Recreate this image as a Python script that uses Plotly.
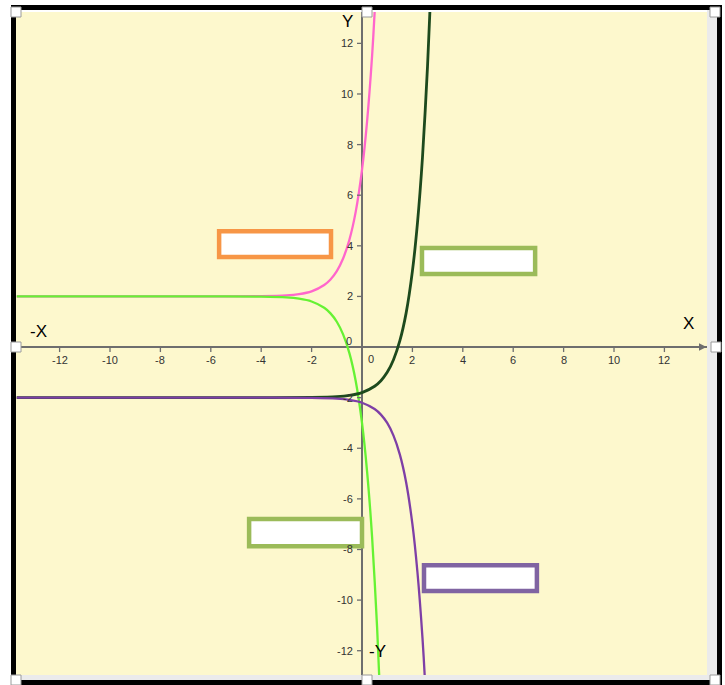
import plotly.graph_objects as go

# ---- curve samples (x, y) ----
pink_x = [-13.7, -6, -4, -3, -2.5, -2, -1.5, -1.25, -1, -0.75, -0.5, -0.25, 0, 0.2, 0.4, 0.5, 0.55]
pink_y = [2.0, 2.0, 2.01, 2.04, 2.09, 2.2, 2.45, 2.67, 3.0, 3.5, 4.24, 5.34, 7.0, 8.9, 11.5, 13.2, 14.2]

lime_x = [-13.7, -6, -4, -3, -2.5, -2, -1.5, -1.25, -1, -0.75, -0.5, -0.25, 0, 0.2, 0.4, 0.6, 0.7]
lime_y = [2.0, 2.0, 1.99, 1.96, 1.91, 1.8, 1.55, 1.33, 1.0, 0.5, -0.24, -1.34, -3.0, -4.9, -7.5, -11.1, -13.4]

dark_x = [-13.7, -4, -2, -1, -0.5, 0, 0.5, 0.75, 1, 1.25, 1.5, 1.75, 2, 2.2, 2.4, 2.6, 2.7]
dark_y = [-2.0, -2.0, -1.99, -1.96, -1.91, -1.8, -1.55, -1.33, -1.0, -0.5, 0.24, 1.34, 3.0, 4.9, 7.5, 11.1, 13.4]

purple_x = [-13.7, -4, -2, -1, -0.5, 0, 0.5, 0.75, 1, 1.25, 1.5, 1.75, 2, 2.2, 2.4, 2.5, 2.55]
purple_y = [-2.0, -2.0, -2.01, -2.04, -2.09, -2.2, -2.45, -2.67, -3.0, -3.5, -4.24, -5.34, -7.0, -8.9, -11.5, -13.2, -14.2]

# ---- axis ticks ----
x_ticks = [-12, -10, -8, -6, -4, -2, 2, 4, 6, 8, 10, 12]
y_ticks = [-12, -10, -8, -6, -4, -2, 2, 4, 6, 8, 10, 12]

X_RANGE = [-13.73, 13.69]
Y_RANGE = [-12.96, 13.24]

# plot area in pixels
L, R, T, B = 16, 707, 12, 675
W, H = R - L, B - T


def px(p):
    return (p - L) / W


def py(p):
    return (B - p) / H


fig = go.Figure()

curves = [
    (pink_x, pink_y, "#ff66cc", 2.3),
    (lime_x, lime_y, "#66f233", 2.3),
    (dark_x, dark_y, "#1d4a1d", 2.8),
    (purple_x, purple_y, "#7e3fa6", 2.3),
]
for xs, ys, color, w in curves:
    fig.add_trace(go.Scatter(
        x=xs, y=ys, mode="lines",
        line=dict(color=color, width=w, shape="spline", smoothing=0.8),
        hoverinfo="skip", showlegend=False,
    ))

shapes = []
annotations = []

tick_font = dict(family="Arial", size=11, color="#333333")

# tick marks on the axes
for t in x_ticks:
    shapes.append(dict(type="line", xref="x", yref="y", x0=t, x1=t,
                       ysizemode="pixel", yanchor=0, y0=-5, y1=0,
                       line=dict(color="#6e6e6e", width=1.3)))
    annotations.append(dict(x=t, y=0, xref="x", yref="y", text=str(t),
                            showarrow=False, yshift=-13, font=tick_font))
for t in y_ticks:
    shapes.append(dict(type="line", xref="x", yref="y", y0=t, y1=t,
                       xsizemode="pixel", xanchor=0, x0=-5, x1=0,
                       line=dict(color="#6e6e6e", width=1.3)))
    annotations.append(dict(x=0, y=t, xref="x", yref="y", text=str(t),
                            showarrow=False, xanchor="right", xshift=-7,
                            font=tick_font))

# origin labels
annotations.append(dict(x=0, y=0, xref="x", yref="y", text="0", showarrow=False,
                        xshift=9, yshift=-12, font=tick_font))
annotations.append(dict(x=0, y=0, xref="x", yref="y", text="0", showarrow=False,
                        xshift=-13, yshift=6, font=tick_font))

# x-axis arrow head
annotations.append(dict(x=X_RANGE[1] - 0.02, y=0, xref="x", yref="y", text="",
                        showarrow=True, ax=-12, ay=0, arrowhead=2, arrowsize=1,
                        arrowwidth=1.5, arrowcolor="#6e6e6e"))

# axis names
for text, xp, yp in [("X", 688, 323), ("-X", 38, 332), ("Y", 347, 22), ("-Y", 378, 651)]:
    annotations.append(dict(x=px(xp), y=py(yp), xref="paper", yref="paper",
                            text=text, showarrow=False,
                            xanchor="center", yanchor="middle",
                            font=dict(family="Arial", size=17, color="#000000")))

# empty label boxes
boxes = [
    (-5.67, -1.23, 3.56, 4.58, "#f79646"),
    (2.38, 6.87, 2.89, 3.91, "#9bbb59"),
    (-4.48, 0.0, -7.87, -6.80, "#9bbb59"),
    (2.46, 6.94, -9.64, -8.62, "#8064a2"),
]
for x0, x1, y0, y1, c in boxes:
    shapes.append(dict(type="rect", xref="x", yref="y", x0=x0, x1=x1, y0=y0, y1=y1,
                       line=dict(color=c, width=4.5), fillcolor="white", layer="above"))

# light strip between plot area and frame
for x0, x1, y0, y1 in [(707, 717, 10, 680), (16, 717, 675, 680)]:
    shapes.append(dict(type="rect", xref="paper", yref="paper",
                       x0=px(x0), x1=px(x1), y0=py(y1), y1=py(y0),
                       line=dict(width=0), fillcolor="#ebebeb", layer="above"))

# black frame
for x0, x1, y0, y1 in [(11, 16, 5, 685), (11, 722, 5, 10), (717, 722, 5, 685), (11, 722, 680, 685)]:
    shapes.append(dict(type="rect", xref="paper", yref="paper",
                       x0=px(x0), x1=px(x1), y0=py(y1), y1=py(y0),
                       line=dict(width=0), fillcolor="#000000", layer="above"))

# selection handles
for cx, cy in [(16, 12), (367, 12), (715, 12), (16, 347), (716, 347),
               (16, 680), (367, 680), (715, 680)]:
    shapes.append(dict(type="rect", xref="paper", yref="paper",
                       x0=px(cx - 5), x1=px(cx + 5), y0=py(cy + 5), y1=py(cy - 5),
                       line=dict(color="#9a9a9a", width=1), fillcolor="white", layer="above"))

fig.update_layout(
    width=725, height=685,
    margin=dict(l=L, r=725 - R, t=T, b=685 - B),
    paper_bgcolor="white",
    plot_bgcolor="#fdf8cd",
    shapes=shapes,
    annotations=annotations,
    xaxis=dict(range=X_RANGE, showgrid=False, showticklabels=False, ticks="",
               zeroline=True, zerolinecolor="#6e6e6e", zerolinewidth=1.6,
               showline=False, fixedrange=True),
    yaxis=dict(range=Y_RANGE, showgrid=False, showticklabels=False, ticks="",
               zeroline=True, zerolinecolor="#6e6e6e", zerolinewidth=1.6,
               showline=False, fixedrange=True),
    showlegend=False,
)

fig.write_html("out.html", config={"displayModeBar": False})
